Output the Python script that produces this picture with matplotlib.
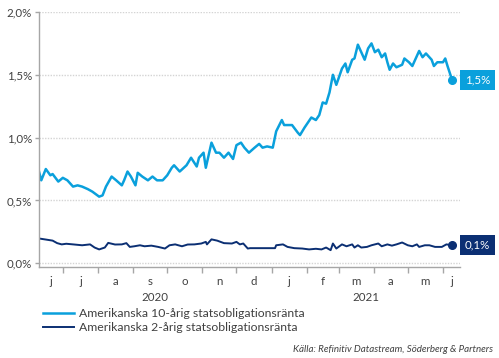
import numpy as np
import pandas as pd
import matplotlib
matplotlib.use("Agg")
import matplotlib.pyplot as plt
import matplotlib.transforms as mtransforms

plt.rcParams['font.family'] = ['Lato', 'DejaVu Sans']

# Amerikanska 10-årig statsobligationsränta (%)
datum_10 = ["2020-06-10", "2020-06-12", "2020-06-16", "2020-06-20", "2020-06-22", "2020-06-27",
            "2020-07-01", "2020-07-05", "2020-07-10", "2020-07-14", "2020-07-18", "2020-07-23",
            "2020-07-27", "2020-08-02", "2020-08-05", "2020-08-08", "2020-08-13", "2020-08-17",
            "2020-08-22", "2020-08-24", "2020-08-27", "2020-08-30", "2020-09-03", "2020-09-05",
            "2020-09-09", "2020-09-14", "2020-09-18", "2020-09-22", "2020-09-27", "2020-10-01",
            "2020-10-05", "2020-10-07", "2020-10-12", "2020-10-18", "2020-10-22", "2020-10-27",
            "2020-10-29", "2020-11-02", "2020-11-04", "2020-11-06", "2020-11-09", "2020-11-13",
            "2020-11-16", "2020-11-20", "2020-11-24", "2020-11-28", "2020-12-01", "2020-12-05",
            "2020-12-08", "2020-12-12", "2020-12-17", "2020-12-21", "2020-12-24", "2020-12-28",
            "2021-01-02", "2021-01-05", "2021-01-10", "2021-01-12", "2021-01-19", "2021-01-24",
            "2021-01-26", "2021-01-30", "2021-02-05", "2021-02-09", "2021-02-12", "2021-02-15",
            "2021-02-18", "2021-02-21", "2021-02-24", "2021-02-27", "2021-03-04", "2021-03-07",
            "2021-03-09", "2021-03-13", "2021-03-15", "2021-03-18", "2021-03-22", "2021-03-24",
            "2021-03-27", "2021-03-30", "2021-04-02", "2021-04-05", "2021-04-08", "2021-04-11",
            "2021-04-13", "2021-04-15", "2021-04-18", "2021-04-21", "2021-04-26", "2021-04-28",
            "2021-05-02", "2021-05-05", "2021-05-11", "2021-05-14", "2021-05-17", "2021-05-22",
            "2021-05-24", "2021-05-27", "2021-06-01", "2021-06-03", "2021-06-05", "2021-06-09"]
ranta_10 = [0.73, 0.66, 0.75, 0.70, 0.71, 0.65,
            0.68, 0.66, 0.61, 0.62, 0.61, 0.59,
            0.57, 0.53, 0.54, 0.61, 0.69, 0.66,
            0.62, 0.66, 0.73, 0.69, 0.62, 0.72,
            0.69, 0.66, 0.69, 0.66, 0.66, 0.70,
            0.76, 0.78, 0.73, 0.78, 0.84, 0.77,
            0.84, 0.88, 0.76, 0.84, 0.96, 0.88,
            0.88, 0.84, 0.88, 0.83, 0.94, 0.96,
            0.92, 0.88, 0.92, 0.95, 0.92, 0.93,
            0.92, 1.05, 1.14, 1.10, 1.10, 1.04,
            1.02, 1.08, 1.16, 1.14, 1.18, 1.28,
            1.27, 1.36, 1.50, 1.42, 1.55, 1.59,
            1.52, 1.62, 1.63, 1.74, 1.66, 1.62,
            1.71, 1.75, 1.68, 1.70, 1.64, 1.67,
            1.60, 1.54, 1.59, 1.56, 1.58, 1.63,
            1.60, 1.57, 1.69, 1.64, 1.67, 1.62,
            1.57, 1.60, 1.60, 1.63, 1.57, 1.46]

# Amerikanska 2-årig statsobligationsränta (%)
datum_2 = ["2020-06-10", "2020-06-15", "2020-06-22", "2020-06-26", "2020-06-30", "2020-07-04",
           "2020-07-10", "2020-07-18", "2020-07-25", "2020-07-29", "2020-08-02", "2020-08-07",
           "2020-08-10", "2020-08-16", "2020-08-22", "2020-08-26", "2020-08-29", "2020-09-02",
           "2020-09-07", "2020-09-11", "2020-09-17", "2020-09-23", "2020-09-29", "2020-10-03",
           "2020-10-08", "2020-10-14", "2020-10-19", "2020-10-25", "2020-10-31", "2020-11-04",
           "2020-11-05", "2020-11-09", "2020-11-14", "2020-11-20", "2020-11-27", "2020-12-01",
           "2020-12-04", "2020-12-07", "2020-12-11", "2020-12-13", "2020-12-20", "2020-12-28",
           "2021-01-04", "2021-01-05", "2021-01-11", "2021-01-15", "2021-01-21", "2021-01-28",
           "2021-02-03", "2021-02-09", "2021-02-14", "2021-02-18", "2021-02-22", "2021-02-24",
           "2021-02-27", "2021-03-04", "2021-03-08", "2021-03-13", "2021-03-15", "2021-03-18",
           "2021-03-21", "2021-03-26", "2021-03-30", "2021-04-05", "2021-04-08", "2021-04-13",
           "2021-04-17", "2021-04-21", "2021-04-26", "2021-05-01", "2021-05-05", "2021-05-09",
           "2021-05-11", "2021-05-16", "2021-05-20", "2021-05-25", "2021-05-31", "2021-06-04",
           "2021-06-09"]
ranta_2 = [0.197, 0.19, 0.18, 0.16, 0.15, 0.155,
           0.15, 0.143, 0.15, 0.125, 0.11, 0.125,
           0.162, 0.149, 0.15, 0.16, 0.13, 0.135,
           0.143, 0.135, 0.14, 0.13, 0.117, 0.143,
           0.15, 0.135, 0.149, 0.15, 0.157, 0.17,
           0.15, 0.19, 0.18, 0.16, 0.157, 0.17,
           0.15, 0.157, 0.117, 0.12, 0.12, 0.12,
           0.12, 0.143, 0.15, 0.13, 0.12, 0.117,
           0.11, 0.115, 0.11, 0.125, 0.104, 0.157,
           0.117, 0.15, 0.135, 0.15, 0.125, 0.143,
           0.125, 0.13, 0.143, 0.157, 0.135, 0.15,
           0.14, 0.15, 0.165, 0.143, 0.135, 0.15,
           0.13, 0.143, 0.143, 0.13, 0.13, 0.15,
           0.143]

manader = ["j", "j", "a", "s", "o", "n", "d", "j", "f", "m", "a", "m", "j"]
ar = ["2020", "2021"]
namn_10 = "Amerikanska 10-årig statsobligationsränta"
namn_2 = "Amerikanska 2-årig statsobligationsränta"
kalla = "Källa: Refinitiv Datastream, Söderberg & Partners"

ljusbla = "#0AA0DC"
marinbla = "#0B2F73"
textfarg = "#404040"
axelfarg = "#A6A6A6"

d10 = pd.to_datetime(datum_10)
d2 = pd.to_datetime(datum_2)
x_start = pd.Timestamp("2020-06-10")
x_slut = pd.Timestamp("2021-06-16")

fig = plt.figure(figsize=(4.99, 3.58), dpi=100)
ax = fig.add_axes([39 / 499, 1 - 267 / 358, 421 / 499, 255 / 358])

ax.plot(d10, ranta_10, color=ljusbla, lw=1.8, label=namn_10, solid_joinstyle='round')
ax.plot(d2, ranta_2, color=marinbla, lw=1.4, label=namn_2, solid_joinstyle='round')
ax.plot(d10[-1], ranta_10[-1], 'o', color=ljusbla, ms=5.5)
ax.plot(d2[-1], ranta_2[-1], 'o', color=marinbla, ms=5.5)

ax.set_xlim(x_start, x_slut)
ax.set_ylim(-0.03, 2.0)

# y-axel
yt = np.arange(0, 2.01, 0.5)
ax.set_yticks(yt)
ax.set_yticklabels([f"{v:.1f}".replace(".", ",") + "%" for v in yt], fontsize=8.3, color=textfarg)
for v in yt:
    ax.axhline(v, color="#D4D4D4", lw=1, ls=(0, (1, 1)), zorder=0)

# x-axel: streck vid månadsskiften, etiketter mitt i varje månad
grans = pd.date_range("2020-06-01", "2021-07-01", freq="MS")
ax.set_xticks([g for g in grans if x_start <= g <= x_slut])
ax.set_xticklabels([])
mitt = []
for a, b in zip(grans[:-1], grans[1:]):
    a2, b2 = max(a, x_start), min(b, x_slut)
    mitt.append(a2 + (b2 - a2) / 2)
trans = mtransforms.blended_transform_factory(ax.transData, ax.transAxes)
for m, t in zip(mitt, manader):
    ax.text(m, -0.055, t, transform=trans, ha="center", va="center", fontsize=8.3, color=textfarg)
ar_mitt = [x_start + (pd.Timestamp("2021-01-01") - x_start) / 2,
           pd.Timestamp("2021-01-01") + (x_slut - pd.Timestamp("2021-01-01")) / 2]
for m, t in zip(ar_mitt, ar):
    ax.text(m, -0.12, t, transform=trans, ha="center", va="center", fontsize=8.3, color=textfarg)

ax.tick_params(axis="x", length=4, width=1, color=axelfarg, direction="out")
ax.tick_params(axis="y", length=3, width=1, color=axelfarg, direction="out", pad=2)
for s in ["top", "right"]:
    ax.spines[s].set_visible(False)
for s in ["left", "bottom"]:
    ax.spines[s].set_color(axelfarg)
    ax.spines[s].set_linewidth(1)

# etiketter med senaste värde
trans_y = mtransforms.blended_transform_factory(ax.transAxes, ax.transData)
for v, c in [(ranta_10[-1], ljusbla), (ranta_2[-1], marinbla)]:
    ax.text(1.012, v, f"{v:.1f}".replace(".", ",") + "%", transform=trans_y, ha="left", va="center",
            fontsize=8.3, color="white", bbox=dict(boxstyle="square,pad=0.4", fc=c, ec="none"),
            clip_on=False)

fig.legend(loc="upper left", bbox_to_anchor=(43 / 499, 1 - 308 / 358), frameon=False, fontsize=8.8,
           handlelength=2.5, handletextpad=0.45, labelspacing=0.25, borderpad=0, borderaxespad=0,
           labelcolor=textfarg)

fig.text(493 / 499, 1 - 350 / 358, kalla, ha="right", va="center", fontsize=7, style="italic",
         color=textfarg)

fig.savefig("out.png", dpi=100)
